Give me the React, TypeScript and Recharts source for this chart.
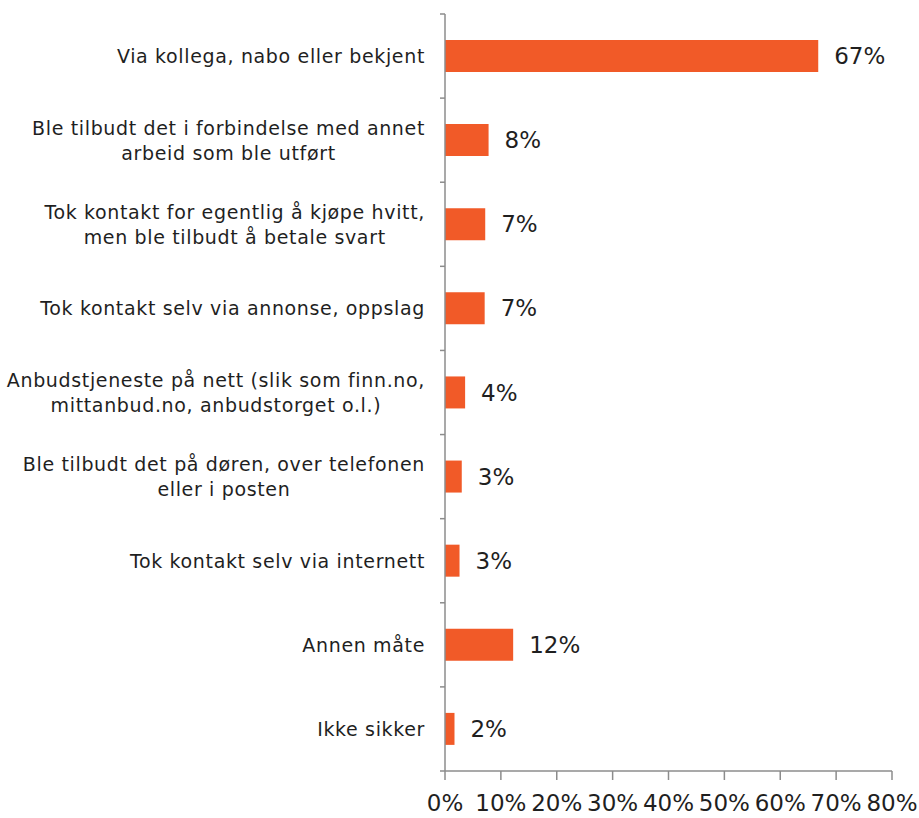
import React from "react";
import { BarChart, Bar, XAxis, YAxis, LabelList } from "recharts";

const categories: string[] = [
  "Via kollega, nabo eller bekjent",
  "Ble tilbudt det i forbindelse med annet\narbeid som ble utført",
  "Tok kontakt for egentlig å kjøpe hvitt,\nmen ble tilbudt å betale svart",
  "Tok kontakt selv via annonse, oppslag",
  "Anbudstjeneste på nett (slik som finn.no,\nmittanbud.no, anbudstorget o.l.)",
  "Ble tilbudt det på døren, over telefonen\neller i posten",
  "Tok kontakt selv via internett",
  "Annen måte",
  "Ikke sikker",
];
const values: number[] = [66.8, 7.8, 7.2, 7.1, 3.6, 3.0, 2.6, 12.2, 1.7];
const xTicks: number[] = [0, 10, 20, 30, 40, 50, 60, 70, 80];

const data = categories.map((c, i) => ({ name: c, value: values[i] }));

const W = 919;
const H = 818;
const MARGIN = { top: 14, right: 27, left: 0, bottom: 0 };
const YAXIS_W = 445;
const XAXIS_H = 47;
const PLOT_LEFT = MARGIN.left + YAXIS_W;
const PLOT_H = H - MARGIN.top - MARGIN.bottom - XAXIS_H;
const STEP = PLOT_H / categories.length;

const FONT = "DejaVu Sans";
const AXIS_COLOR = "#8c8c8c";
const TEXT_COLOR = "#1f1f1f";
const BAR_COLOR = "#F15A28";
const CAT_SIZE = 19;
const CAT_LS = 0.65;

let ctx: CanvasRenderingContext2D | null = null;
function measure(t: string, size: number, ls: number): number {
  if (!ctx && typeof document !== "undefined") {
    ctx = document.createElement("canvas").getContext("2d");
  }
  if (!ctx) return t.length * (size * 0.55 + ls);
  ctx.font = `${size}px "${FONT}"`;
  return ctx.measureText(t).width + t.length * ls;
}

const YTick = (props: any) => {
  const { y, payload, index } = props;
  const lines: string[] = String(payload.value).split("\n");
  const lh = 25;
  const widths = lines.map((l) => measure(l, CAT_SIZE, CAT_LS));
  const maxW = Math.max(...widths);
  const right = PLOT_LEFT - 20;
  const startY = y - ((lines.length - 1) * lh) / 2;
  const isLast = index === categories.length - 1;
  return (
    <g>
      <line x1={PLOT_LEFT - 5} x2={PLOT_LEFT} y1={y - STEP / 2} y2={y - STEP / 2} stroke={AXIS_COLOR} strokeWidth={1.5} />
      {isLast && (
        <line x1={PLOT_LEFT - 5} x2={PLOT_LEFT} y1={y + STEP / 2} y2={y + STEP / 2} stroke={AXIS_COLOR} strokeWidth={1.5} />
      )}
      <text
        textAnchor="start"
        fontFamily={FONT}
        fontSize={CAT_SIZE}
        letterSpacing={CAT_LS}
        fill={TEXT_COLOR}
      >
        {lines.map((l, i) => (
          <tspan key={i} x={right - maxW / 2 - widths[i] / 2} y={startY + i * lh} dy="0.36em">
            {l}
          </tspan>
        ))}
      </text>
    </g>
  );
};

export default function App() {
  return (
    <div style={{ position: "absolute", left: 0, top: 0, width: W, height: H, background: "#fff" }}>
      <BarChart width={W} height={H} data={data} layout="vertical" margin={MARGIN}>
        <XAxis
          type="number"
          domain={[0, 80]}
          ticks={xTicks}
          interval={0}
          height={XAXIS_H}
          tickFormatter={(v: number) => `${v}%`}
          axisLine={{ stroke: AXIS_COLOR, strokeWidth: 1.5 }}
          tickLine={{ stroke: AXIS_COLOR, strokeWidth: 1.5 }}
          tickSize={9}
          tickMargin={15}
          tick={{ fontFamily: FONT, fontSize: 23, fill: TEXT_COLOR }}
        />
        <YAxis
          type="category"
          dataKey="name"
          width={YAXIS_W}
          interval={0}
          axisLine={{ stroke: AXIS_COLOR, strokeWidth: 1.5 }}
          tickLine={false}
          tick={<YTick />}
        />
        <Bar dataKey="value" fill={BAR_COLOR} barSize={32} isAnimationActive={false}>
          <LabelList
            dataKey="value"
            position="right"
            offset={16}
            formatter={(v: any) => `${Math.round(Number(v))}%`}
            style={{ fontFamily: FONT, fontSize: 23, fill: TEXT_COLOR }}
          />
        </Bar>
      </BarChart>
    </div>
  );
}
